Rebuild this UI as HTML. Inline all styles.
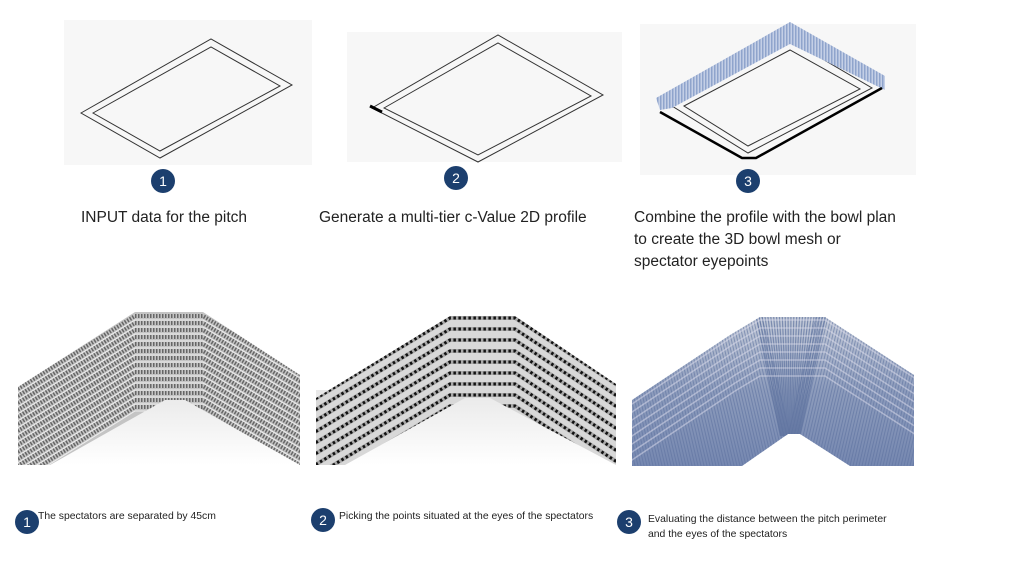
<!DOCTYPE html>
<html><head><meta charset="utf-8"><style>
body{margin:0;width:1024px;height:576px;background:#fff;overflow:hidden;font-family:"Liberation Sans",sans-serif}
.t{position:absolute;color:#222;font-size:15.5px;line-height:22px;font-weight:300}
.s{position:absolute;color:#222;font-size:10.4px;line-height:15px}
</style></head><body>
<svg id="sv" width="1024" height="576" style="position:absolute;left:0;top:0" xmlns="http://www.w3.org/2000/svg">
<defs>
<pattern id="blue" width="3" height="6" patternUnits="userSpaceOnUse"><rect width="3" height="6" fill="#c4cfe6"/><rect width="1.5" height="6" fill="#8fa4cc"/></pattern>
<linearGradient id="fade" x1="0" y1="0" x2="0" y2="1"><stop offset="0" stop-color="#e8e8e8"/><stop offset="1" stop-color="#fff"/></linearGradient>
<linearGradient id="bg3" x1="0" y1="0" x2="0" y2="1"><stop offset="0" stop-color="#c8ceda"/><stop offset="0.5" stop-color="#8d9cbc"/><stop offset="1" stop-color="#7587b0"/></linearGradient>
<clipPath id="c1"><polygon points="18,387 135,312 203,312 300,375 300,465 300,465 185,400 165,400 50,465 18,465"/></clipPath>
<clipPath id="c2"><polygon points="316,398 450,316 515,316 616,384 616,465 616,465 490,398 465,398 345,465 316,465"/></clipPath>
<clipPath id="c3"><polygon points="632,400 730,335 760,317 825,317 914,375 914,466 850,466 800,434 788,434 742,466 632,466"/></clipPath>
</defs>
<rect x="64" y="20" width="248" height="145" fill="#f7f7f7"/>
<rect x="347" y="32" width="275" height="130" fill="#f7f7f7"/>
<rect x="640" y="24" width="276" height="151" fill="#f7f7f7"/>
<g fill="none" stroke="#333" stroke-width="1">
<polygon points="81,113 211,39 292,85 160,158"/>
<polygon points="93,113 211,47 280,86 160,151"/>
<polygon points="372,108 498,35 603,95 478,162"/>
<polygon points="384,108 498,43 591,96 478,155"/>
<polygon points="672,106 790,40 872,88 748,153"/>
<polygon points="684,106 790,50 860,89 748,146"/>
</g>
<line x1="370" y1="106" x2="382" y2="112" stroke="#000" stroke-width="3"/>
<polygon points="656,98 790,22 885,76 885,90 790,44 672,108 660,110" fill="url(#blue)"/>
<path d="M660,112 L742,158 L756,158 L882,88" fill="none" stroke="#000" stroke-width="2.5"/>
<g fill="#1c3f6e"><circle cx="163" cy="181" r="12"/><circle cx="456" cy="178" r="12"/><circle cx="748" cy="181" r="12"/>
<circle cx="27" cy="522" r="12"/><circle cx="323" cy="520" r="12"/><circle cx="629" cy="522" r="12"/></g>
<g fill="#fff" font-family="Liberation Sans" font-size="14" text-anchor="middle">
<text x="163" y="186">1</text><text x="456" y="183">2</text><text x="748" y="186">3</text>
<text x="27" y="527">1</text><text x="323" y="525">2</text><text x="629" y="527">3</text></g>
<rect x="18" y="390" width="282" height="75" fill="url(#fade)"/>
<rect x="316" y="390" width="300" height="75" fill="url(#fade)"/>
<g id="g1" clip-path="url(#c1)"><rect x="18" y="300" width="282" height="170" fill="#c4c4c4"/></g>
<g id="g2" clip-path="url(#c2)"><rect x="316" y="300" width="300" height="170" fill="#d8d8d8"/></g>
<g id="g3" clip-path="url(#c3)" fill="none"><rect x="630" y="310" width="290" height="160" fill="url(#bg3)" stroke="none"/></g>
</svg>
<script>
var NS="http://www.w3.org/2000/svg";
function add(g,tag,at){var e=document.createElementNS(NS,tag);for(var k in at)e.setAttribute(k,at[k]);document.getElementById(g).appendChild(e);}
for(var i=0;i<14;i++){var d=i*7;
 var p="0,"+(400+d)+" 135,"+(316+d)+" 203,"+(316+d)+" 320,"+(386+d);
 add("g1","polyline",{points:p,fill:"none",stroke:"#666","stroke-width":4,"stroke-dasharray":"1.5 1.5"});
 add("g1","polyline",{points:p.replace(/,(\d+)/g,function(m,y){return ","+(+y+4)}),fill:"none",stroke:"#eee","stroke-width":1});
}
for(var i=0;i<14;i++){var d=i*11;
 var p="290,"+(414+d)+" 450,"+(318+d)+" 515,"+(318+d)+" 640,"+(400+d);
 add("g2","polyline",{points:p,fill:"none",stroke:"#a8a8a8","stroke-width":4});
 add("g2","polyline",{points:p,fill:"none",stroke:"#111","stroke-width":3,"stroke-dasharray":"2.5 2.5"});
}
for(var x=600;x<=800;x+=3){add("g3","line",{x1:x,y1:470,x2:x-40,y2:300,stroke:"#5f73a0","stroke-width":1,opacity:0.6});}
for(var x=780;x<=960;x+=3){add("g3","line",{x1:x,y1:470,x2:x+40,y2:300,stroke:"#5f73a0","stroke-width":1,opacity:0.6});}
for(var i=0;i<=24;i++){var x=755+i*3;add("g3","line",{x1:790+(i-12)*0.8,y1:436,x2:x,y2:310,stroke:"#5f73a0","stroke-width":1.2,opacity:0.7});}
for(var i=0;i<8;i++){var d=i*8;add("g3","polyline",{points:"620,"+(412+d)+" 735,"+(335+d)+" 760,"+(320+d)+" 825,"+(320+d)+" 930,"+(388+d),stroke:"#dde","stroke-width":1.5,opacity:0.5});}
</script>
<div class="t" style="left:634px;top:207px;width:272px">Combine the profile with the bowl plan to create the 3D bowl mesh or spectator eyepoints</div>
<div class="t" style="left:81px;top:207px">INPUT data for the pitch</div>
<div class="t" style="left:319px;top:207px">Generate a multi-tier c-Value 2D profile</div>
<div class="s" style="left:38px;top:509px">The spectators are separated by 45cm</div>
<div class="s" style="left:339px;top:509px">Picking the points situated at the eyes of the spectators</div>
<div class="s" style="left:648px;top:512px">Evaluating the distance between the pitch perimeter<br>and the eyes of the spectators</div>
</body></html>
